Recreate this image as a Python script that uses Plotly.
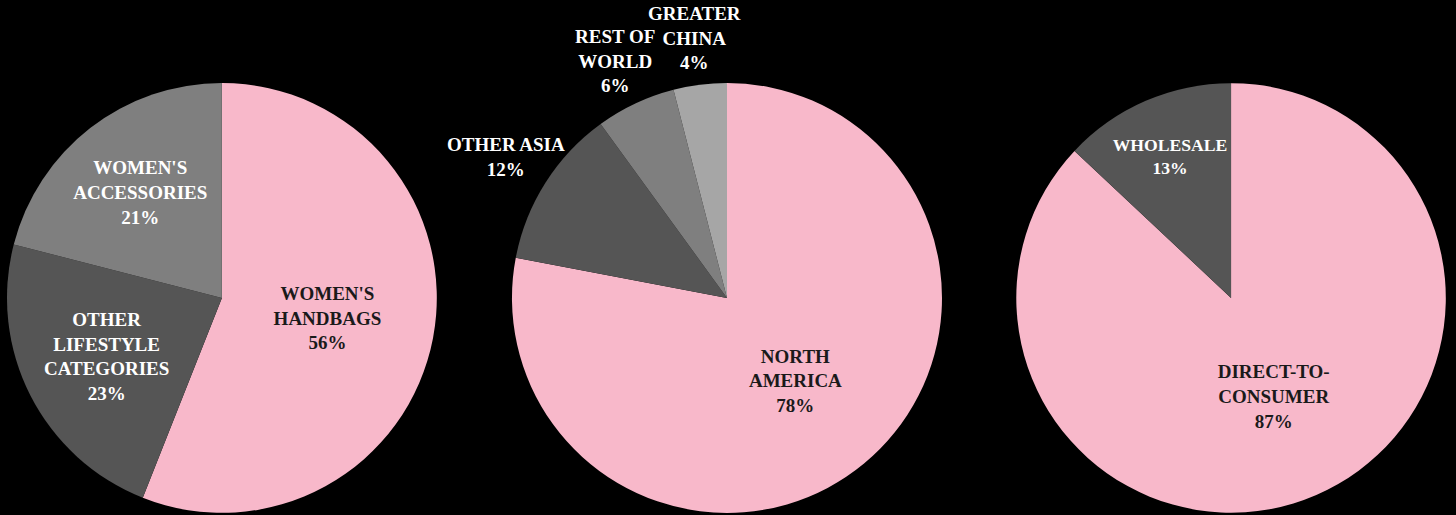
import math
import plotly.graph_objects as go

# Data
cat_labels = ["WOMEN'S<br>HANDBAGS", "OTHER<br>LIFESTYLE<br>CATEGORIES", "WOMEN'S<br>ACCESSORIES"]
cat_values = [56, 23, 21]

reg_labels = ["NORTH<br>AMERICA", "OTHER ASIA", "REST OF<br>WORLD", "GREATER<br>CHINA"]
reg_values = [78, 12, 6, 4]
reg_outside = [False, True, True, True]

chan_labels = ["DIRECT-TO-<br>CONSUMER", "WHOLESALE"]
chan_values = [87, 13]

PINK = "#F8B8CA"
DARK = "#555555"
MID = "#7F7F7F"
LIGHT = "#A6A6A6"
FONT = "Liberation Serif"
FS = 19
W, H = 1456, 515

DOM_Y = [0.004, 0.839]
DOM1 = [0.0048, 0.3]
DOM2 = [0.3516, 0.647]
DOM3 = [0.698, 0.993]

TPL = "<b>%{label}<br>%{value}%</b>"

fig = go.Figure()

common = dict(sort=False, direction="clockwise", rotation=0, hoverinfo="skip",
              showlegend=False, insidetextorientation="horizontal",
              textposition="inside")

fig.add_trace(go.Pie(
    labels=cat_labels, values=cat_values, texttemplate=TPL,
    marker=dict(colors=[PINK, DARK, MID], line=dict(width=0)),
    textfont=dict(family=FONT, size=FS, color=["#1a1a1a", "white", "white"]),
    domain=dict(x=DOM1, y=DOM_Y),
    **common))

fig.add_trace(go.Pie(
    labels=reg_labels, values=reg_values,
    texttemplate=["" if o else TPL for o in reg_outside],
    marker=dict(colors=[PINK, DARK, MID, LIGHT], line=dict(width=0)),
    textfont=dict(family=FONT, size=FS, color=["#1a1a1a", "white", "white", "white"]),
    domain=dict(x=DOM2, y=DOM_Y),
    **common))

fig.add_trace(go.Pie(
    labels=chan_labels, values=chan_values, texttemplate=TPL,
    marker=dict(colors=[PINK, DARK], line=dict(width=0)),
    textfont=dict(family=FONT, size=FS, color=["#1a1a1a", "white"]),
    domain=dict(x=DOM3, y=DOM_Y),
    **common))

# Outside labels for the small region slices, placed along each slice's mid-angle
cx = (DOM2[0] + DOM2[1]) / 2
cy = (DOM_Y[0] + DOM_Y[1]) / 2
r_px = min((DOM2[1] - DOM2[0]) * W, (DOM_Y[1] - DOM_Y[0]) * H) / 2
label_r = r_px * 1.22
total = sum(reg_values)
cum = 0
for lab, val, out in zip(reg_labels, reg_values, reg_outside):
    mid = (cum + val / 2) / total * 2 * math.pi
    cum += val
    if not out:
        continue
    x = cx + label_r * math.sin(mid) / W
    y = cy + label_r * math.cos(mid) / H
    fig.add_annotation(x=x, y=y, xref="paper", yref="paper",
                       text=f"<b>{lab}<br>{val}%</b>", showarrow=False,
                       xanchor="center", yanchor="middle",
                       font=dict(family=FONT, size=FS, color="white"))

fig.update_layout(
    width=W, height=H,
    margin=dict(l=0, r=0, t=0, b=0, autoexpand=False),
    paper_bgcolor="black", plot_bgcolor="black",
    font=dict(family=FONT, size=FS, color="white"),
)

fig.write_html("out.html", config={"displayModeBar": False})
